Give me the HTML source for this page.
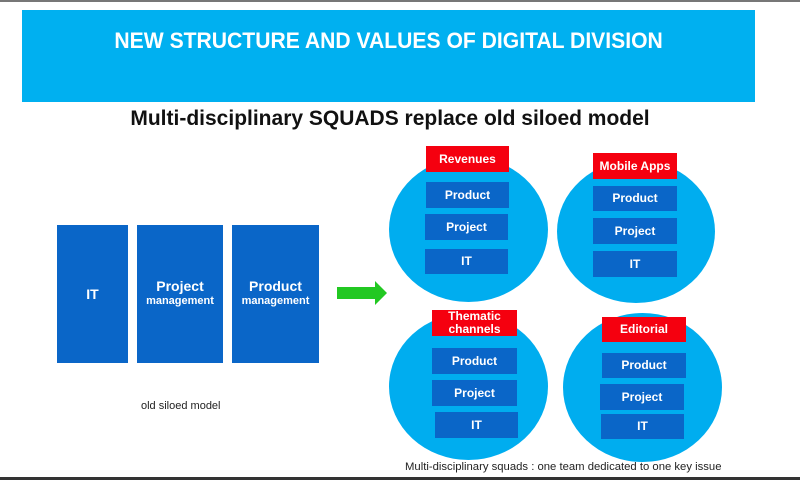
<!DOCTYPE html>
<html><head><style>
body{margin:0;width:800px;height:480px;background:#fff;position:relative;overflow:hidden;font-family:"Liberation Sans",sans-serif}
.a{position:absolute}
.b{position:absolute;background:#0a66c8;color:#fff;font-weight:bold;font-size:12px;display:flex;flex-direction:column;align-items:center;justify-content:center;text-align:center;line-height:13px}
.r{position:absolute;background:#f5000f;color:#fff;font-weight:bold;font-size:12px;display:flex;flex-direction:column;align-items:center;justify-content:center;text-align:center;line-height:13px}
.c{position:absolute;background:#00adef;border-radius:50%}
</style></head><body>
<div class="a" style="left:0;top:0;width:800px;height:2px;background:#777"></div>
<div class="a" style="left:22px;top:10px;width:733px;height:92px;background:#00b0f0"></div>
<div class="a" style="left:22px;top:28px;width:733px;text-align:center;color:#fff;font-size:22px;font-weight:bold;line-height:26px"><span style="display:inline-block;transform:scaleX(0.96)">NEW STRUCTURE AND VALUES OF DIGITAL DIVISION</span></div>
<div class="a" style="left:0;top:107px;width:780px;text-align:center;font-size:21px;font-weight:bold;color:#111">Multi-disciplinary SQUADS replace old siloed model</div>

<div class="b" style="left:57px;top:225px;width:71px;height:138px;font-size:14px">IT</div>
<div class="b" style="left:137px;top:225px;width:86px;height:138px;font-size:14px;line-height:15px"><div>Project</div><div style="font-size:11px">management</div></div>
<div class="b" style="left:232px;top:225px;width:87px;height:138px;font-size:14px;line-height:15px"><div>Product</div><div style="font-size:11px">management</div></div>
<div class="a" style="left:141px;top:400px;font-size:11px;color:#222">old siloed model</div>
<svg class="a" style="left:335px;top:279px" width="55" height="28"><polygon points="2,8 40,8 40,2 52,14 40,26 40,20 2,20" fill="#22c822"/></svg>

<div class="c" style="left:389px;top:157px;width:159px;height:145px"></div>
<div class="c" style="left:557px;top:160px;width:158px;height:143px"></div>
<div class="c" style="left:389px;top:313px;width:159px;height:147px"></div>
<div class="c" style="left:563px;top:313px;width:159px;height:149px"></div>

<div class="r" style="left:426px;top:146px;width:83px;height:26px">Revenues</div>
<div class="b" style="left:426px;top:182px;width:83px;height:26px">Product</div>
<div class="b" style="left:425px;top:214px;width:83px;height:26px">Project</div>
<div class="b" style="left:425px;top:249px;width:83px;height:25px">IT</div>

<div class="r" style="left:593px;top:153px;width:84px;height:26px">Mobile Apps</div>
<div class="b" style="left:593px;top:186px;width:84px;height:25px">Product</div>
<div class="b" style="left:593px;top:218px;width:84px;height:26px">Project</div>
<div class="b" style="left:593px;top:251px;width:84px;height:26px">IT</div>

<div class="r" style="left:432px;top:310px;width:85px;height:26px"><div>Thematic</div><div>channels</div></div>
<div class="b" style="left:432px;top:348px;width:85px;height:26px">Product</div>
<div class="b" style="left:432px;top:380px;width:85px;height:26px">Project</div>
<div class="b" style="left:435px;top:412px;width:83px;height:26px">IT</div>

<div class="r" style="left:602px;top:317px;width:84px;height:25px">Editorial</div>
<div class="b" style="left:602px;top:353px;width:84px;height:25px">Product</div>
<div class="b" style="left:600px;top:384px;width:84px;height:26px">Project</div>
<div class="b" style="left:601px;top:414px;width:83px;height:25px">IT</div>

<div class="a" style="left:405px;top:461px;font-size:11.3px;color:#222">Multi-disciplinary squads : one team dedicated to one key issue</div>
<div class="a" style="left:0;top:477px;width:800px;height:3px;background:#333"></div>
</body></html>
